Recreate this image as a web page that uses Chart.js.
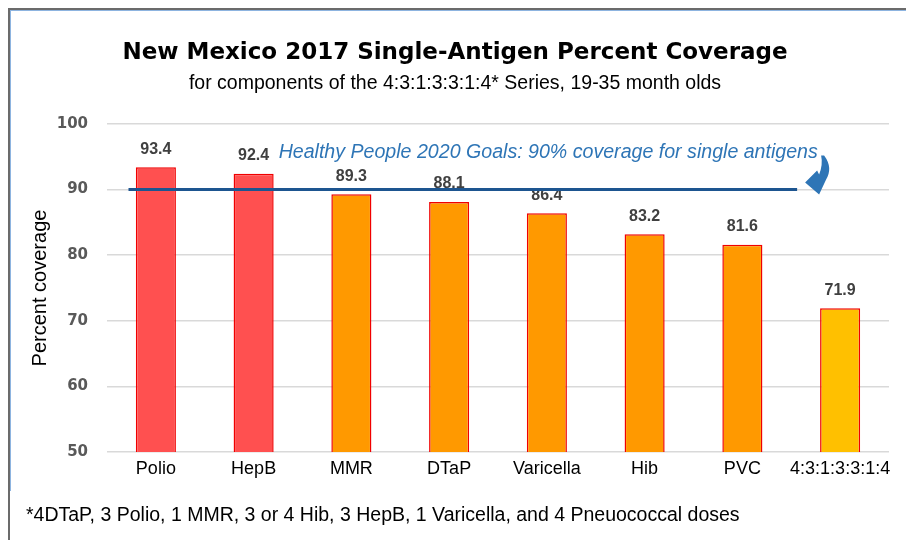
<!DOCTYPE html>
<html>
<head>
<meta charset="utf-8">
<script src="https://cdn.jsdelivr.net/npm/chart.js@4.4.1/dist/chart.umd.min.js"></script>
<style>
  html, body { margin: 0; padding: 0; background: #fff; }
  #wrap { position: relative; width: 906px; height: 540px; overflow: hidden; }
  #frame { position: absolute; left: 8px; top: 8px; right: 0; bottom: 0;
           border-top: 2px solid #6b6b6b; border-left: 2px solid #6b6b6b; }
  #inner { position: absolute; left: 10px; top: 10px; right: 0; height: 480px;
           border-top: 1px solid #8db4e0; border-left: 1px solid #8db4e0; }
  canvas { position: absolute; left: 0; top: 0; }
  .txt { position: absolute; left: 0; width: 906px; text-align: center; color: #000; white-space: nowrap; }
  #title { top: 38px; font: bold 23px "DejaVu Sans", sans-serif; left: 2px; }
  #subtitle { top: 71px; font: 19.5px "Liberation Sans", Arial, sans-serif; left: 2px; }
  #footnote { top: 503px; left: 26px; width: auto; text-align: left; font: 19.5px "Liberation Sans", Arial, sans-serif; }
</style>
</head>
<body>
<div id="wrap">
  <div id="frame"></div>
  <div id="inner"></div>
  <canvas id="chart" width="906" height="540"></canvas>
  <div id="title" class="txt">New Mexico 2017 Single-Antigen Percent Coverage</div>
  <div id="subtitle" class="txt">for components of the 4:3:1:3:3:1:4* Series, 19-35 month olds</div>
  <div id="footnote" class="txt">*4DTaP, 3 Polio, 1 MMR, 3 or 4 Hib, 3 HepB, 1 Varicella, and 4 Pneuococcal doses</div>
</div>
<script>
const antigens = ['Polio', 'HepB', 'MMR', 'DTaP', 'Varicella', 'Hib', 'PVC', '4:3:1:3:3:1:4'];
const coverage = [93.4, 92.4, 89.3, 88.1, 86.4, 83.2, 81.6, 71.9];
const barColors = ['#ff5050', '#ff5050', '#ff9900', '#ff9900', '#ff9900', '#ff9900', '#ff9900', '#ffc000'];
const yTicks = [50, 60, 70, 80, 90, 100];
const goalValue = 90;
const goalText = 'Healthy People 2020 Goals: 90% coverage for single antigens';

const GOAL_BLUE = '#1d5590';
const NOTE_BLUE = '#2e75b6';

// value labels above each bar
const valueLabels = {
    id: 'valueLabels',
    afterDatasetsDraw(chart) {
        const ctx = chart.ctx;
        const meta = chart.getDatasetMeta(0);
        ctx.save();
        ctx.font = 'bold 16px "Liberation Sans", Arial, sans-serif';
        ctx.fillStyle = '#404040';
        ctx.textAlign = 'center';
        ctx.textBaseline = 'middle';
        meta.data.forEach((bar, i) => {
            ctx.fillText(coverage[i].toFixed(1), bar.x, bar.y - 18);
        });
        ctx.restore();
    }
};

// goal line, note and curved arrow
const goalLine = {
    id: 'goalLine',
    afterDatasetsDraw(chart) {
        const ctx = chart.ctx;
        const x = chart.scales.x, y = chart.scales.y;
        const step = x.getPixelForValue(1) - x.getPixelForValue(0);
        const gy = y.getPixelForValue(goalValue);
        const x0 = x.getPixelForValue(0) - 0.28 * step;
        const x1 = x.getPixelForValue(6) + 0.56 * step;

        ctx.save();
        ctx.strokeStyle = GOAL_BLUE;
        ctx.lineWidth = 3;
        ctx.beginPath();
        ctx.moveTo(x0, gy);
        ctx.lineTo(x1, gy);
        ctx.stroke();

        ctx.font = 'italic 19.6px "Liberation Sans", Arial, sans-serif';
        ctx.fillStyle = NOTE_BLUE;
        ctx.textAlign = 'left';
        ctx.textBaseline = 'alphabetic';
        ctx.fillText(goalText, x.getPixelForValue(1) + 25, gy - 32);

        // arrow pointing back at the line end
        const ax = x1, ay = gy;
        ctx.fillStyle = NOTE_BLUE;
        ctx.beginPath();
        ctx.moveTo(ax + 8, ay - 7);
        ctx.lineTo(ax + 20, ay - 19);
        ctx.lineTo(ax + 22, ay - 15);
        ctx.quadraticCurveTo(ax + 26, ay - 25, ax + 24, ay - 34);
        ctx.lineTo(ax + 27, ay - 34);
        ctx.quadraticCurveTo(ax + 36, ay - 22, ax + 29, ay - 10);
        ctx.lineTo(ax + 22, ay + 5);
        ctx.closePath();
        ctx.fill();
        ctx.restore();
    }
};

new Chart(document.getElementById('chart'), {
    type: 'bar',
    data: {
        labels: antigens,
        datasets: [{
            data: coverage,
            backgroundColor: barColors,
            borderColor: '#f00000',
            borderWidth: 1.5,
            borderSkipped: 'bottom',
            barPercentage: 0.41,
            categoryPercentage: 1
        }]
    },
    options: {
        responsive: false,
        animation: false,
        devicePixelRatio: 1,
        layout: { padding: { top: 124, right: 17, bottom: 48, left: 0 } },
        plugins: { legend: { display: false }, tooltip: { enabled: false } },
        scales: {
            x: {
                grid: { display: false, drawTicks: false },
                border: { display: false },
                ticks: {
                    color: '#000',
                    padding: 6,
                    maxRotation: 0,
                    autoSkip: false,
                    font: { family: '"Liberation Sans", Arial, sans-serif', size: 18 }
                },
                afterFit(s) { s.height = 40; }
            },
            y: {
                min: 50,
                max: 100,
                afterBuildTicks(s) { s.ticks = yTicks.map(v => ({ value: v })); },
                grid: { color: '#d9d9d9', lineWidth: 1.5, drawTicks: false },
                border: { display: false },
                ticks: {
                    color: '#595959',
                    padding: 19,
                    font: { family: '"DejaVu Sans", sans-serif', size: 15, weight: 'bold' }
                },
                title: {
                    display: true,
                    text: 'Percent coverage',
                    color: '#000',
                    padding: { top: 28, bottom: 0 },
                    font: { family: '"Liberation Sans", Arial, sans-serif', size: 20 }
                },
                afterFit(s) { s.width = 107; }
            }
        }
    },
    plugins: [valueLabels, goalLine]
});
</script>
</body>
</html>
